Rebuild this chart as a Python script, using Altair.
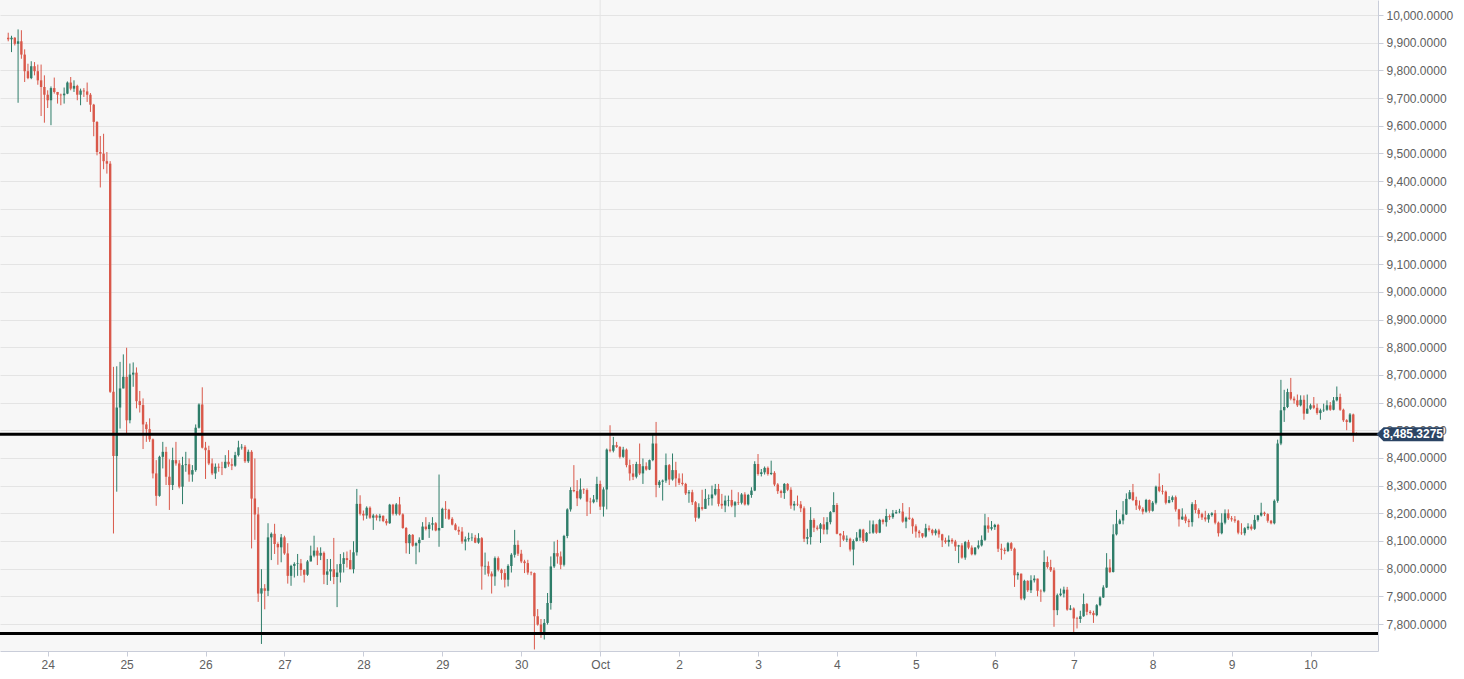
import altair as alt
import pandas as pd

# ---- data (hourly BTC/USD candles, Sep 23 12:00 -> Oct 10 14:00) ----
first_open = 9918

close_prices = [
    9912, 9918, 9896, 9905, 9857, 9797, 9772, 9815, 9797, 9764, 9740, 9712, 9692, 9736, 9722, 9712, 9710, 9716, 9756, 9734,
    9744, 9712, 9727, 9724, 9712, 9676, 9614, 9505, 9499, 9472, 9463, 8639, 8407, 8582, 8651, 8693, 8536, 8701, 8708, 8605,
    8591, 8521, 8504, 8467, 8344, 8263, 8404, 8422, 8332, 8302, 8392, 8380, 8296, 8374, 8377, 8340, 8356, 8509, 8593, 8437,
    8428, 8380, 8344, 8368, 8365, 8364, 8386, 8377, 8372, 8410, 8438, 8440, 8388, 8422, 8253, 8196, 7910, 7929, 7920, 8113,
    8126, 8089, 8077, 8113, 8055, 7974, 8010, 8017, 8019, 7995, 7978, 8026, 8047, 8065, 8047, 8057, 7978, 7990, 7998, 7970,
    7986, 8017, 8038, 8031, 7998, 8059, 8234, 8198, 8192, 8220, 8184, 8192, 8184, 8191, 8172, 8164, 8231, 8198, 8232, 8196,
    8147, 8092, 8122, 8083, 8092, 8104, 8152, 8143, 8159, 8164, 8138, 8147, 8216, 8213, 8180, 8159, 8140, 8134, 8098,
    8106, 8110, 8112, 8094, 8110, 8008, 8010, 7982, 7972, 8038, 7996, 7984, 7960, 8010, 8050, 8086, 8054, 8026, 8020, 7986,
    7984, 7828, 7798, 7770, 7804, 7876, 8008, 8056, 8044, 8014, 8118, 8214, 8284, 8280, 8254, 8286, 8284, 8242, 8240, 8250,
    8306, 8224, 8286, 8430, 8426, 8446, 8440, 8404, 8430, 8374, 8344, 8332, 8378, 8344, 8370, 8358, 8392, 8452, 8302, 8314,
    8318, 8374, 8322, 8356, 8326, 8310, 8306, 8272,
    8276, 8240, 8184, 8222, 8216, 8252, 8254, 8268, 8288, 8234, 8228, 8246, 8248, 8228, 8240, 8238, 8268, 8232, 8266, 8282,
    8378, 8342, 8348, 8364, 8342, 8346, 8304, 8280, 8273, 8306, 8285, 8228, 8234, 8232, 8218, 8108, 8114, 8176, 8148, 8144,
    8160, 8141, 8168, 8204, 8230, 8126, 8120, 8105, 8108, 8069, 8100, 8112, 8141, 8100, 8129, 8130, 8160, 8130, 8176, 8168,
    8190, 8186, 8200, 8204, 8206, 8170, 8184, 8180, 8153,
    8134, 8128, 8116, 8146, 8140, 8128, 8138, 8124, 8102, 8096, 8104, 8098, 8080, 8084, 8040, 8096, 8076, 8052, 8076, 8084,
    8104, 8156, 8144, 8150, 8158, 8072, 8068, 8064, 8092, 8072, 7976, 7982, 7892, 7956, 7922, 7958, 7964, 7920, 7918, 8024,
    8006, 7994, 7850, 7904, 7910, 7924, 7852, 7856, 7820, 7818, 7828, 7872, 7844, 7840, 7832, 7868, 7896, 7932, 8004, 7988,
    8124, 8162, 8174, 8196, 8252, 8276, 8248, 8228, 8216, 8206,
    8248, 8209, 8238, 8296, 8281, 8278, 8238, 8248, 8258, 8214, 8178, 8188, 8173, 8168, 8233, 8212, 8197, 8185, 8178, 8194,
    8200, 8166, 8128, 8166, 8200, 8182, 8178, 8173, 8130, 8128, 8146, 8152, 8144, 8176, 8192, 8202, 8197, 8173, 8164, 8245,
    8452, 8572, 8584, 8638, 8614, 8608, 8590, 8610, 8560, 8578, 8590, 8581, 8562, 8572, 8574, 8590, 8574, 8608, 8620, 8574,
    8536, 8530, 8557, 8490, 8485,
]

high_prices = [
    9936, 9925, 9920, 9948, 9945, 9876, 9824, 9833, 9830, 9821, 9821, 9782, 9728, 9742, 9774, 9722, 9716, 9738, 9760, 9776,
    9764, 9748, 9734, 9736, 9756, 9718, 9679, 9616, 9563, 9571, 9505, 9472,
    8729, 8731, 8747, 8774, 8798, 8741, 8745, 8727, 8642, 8615, 8530, 8543, 8470, 8392, 8408, 8458, 8440, 8395, 8437, 8458,
    8392, 8404, 8422, 8398, 8374, 8521, 8597, 8655, 8458, 8444, 8398, 8380, 8380, 8386, 8410, 8428, 8398, 8422,
    8462, 8450, 8446, 8430, 8428, 8398, 8222, 7998, 7944, 8164, 8131, 8162, 8095, 8125, 8119, 8092, 8014, 8023, 8053, 8035,
    7998, 8031, 8083, 8119, 8077, 8077, 8062, 8035, 8035, 8111, 8016, 8053, 8059, 8062, 8068, 8099, 8288, 8265, 8210, 8225,
    8225, 8198, 8196, 8198, 8192, 8180, 8234, 8234, 8237, 8259, 8200, 8150, 8125, 8125, 8095, 8113, 8168, 8186, 8168, 8186,
    8168, 8340, 8220, 8244, 8216, 8186, 8164, 8152, 8150,
    8116, 8130, 8128, 8122, 8128, 8114, 8058, 8026, 7990, 8044, 8044, 8000, 7998, 8016, 8056, 8140, 8102, 8068, 8032, 8032,
    7990, 7986, 7854, 7818, 7818, 7912, 8044, 8098, 8104, 8062, 8122, 8218, 8294, 8374, 8320, 8326, 8290, 8290, 8256, 8266,
    8332, 8318, 8294, 8434, 8518, 8476, 8458, 8442, 8440, 8434, 8394, 8378, 8386, 8452, 8398, 8384, 8394, 8490, 8530, 8320,
    8322, 8416, 8378, 8416, 8386, 8344, 8344, 8310,
    8284, 8285, 8244, 8236, 8285, 8288, 8268, 8300, 8306, 8306, 8270, 8264, 8264, 8285, 8244, 8276, 8273, 8276, 8270, 8294,
    8388, 8414, 8360, 8369, 8369, 8390, 8352, 8309, 8285, 8309, 8309, 8294, 8244, 8264, 8244, 8225, 8144, 8222, 8182, 8156,
    8165, 8186, 8186, 8208, 8276, 8237, 8128, 8136, 8120, 8112, 8106, 8132, 8144, 8144, 8132, 8174, 8174, 8162, 8180, 8180,
    8216, 8196, 8212, 8212, 8216, 8237, 8188, 8222, 8184,
    8160, 8140, 8128, 8162, 8156, 8144, 8144, 8144, 8126, 8112, 8120, 8110, 8104, 8086, 8092, 8100, 8104, 8084, 8078, 8102,
    8120, 8198, 8186, 8172, 8162, 8162, 8090, 8076, 8096, 8096, 8076, 7988, 7982, 7960, 7958, 7976, 7976, 7964, 7925, 8066,
    8044, 8032, 8004, 7910, 7928, 7935, 7934, 7868, 7860, 7826, 7848, 7910, 7876, 7850, 7848, 7872, 7900, 7940, 8056, 8034,
    8160, 8212, 8180, 8244, 8272, 8284, 8306, 8260, 8246, 8222,
    8252, 8250, 8244, 8300, 8344, 8302, 8282, 8262, 8264, 8264, 8216, 8218, 8196, 8180, 8240, 8248, 8218, 8202, 8209, 8200,
    8204, 8212, 8170, 8200, 8214, 8214, 8190, 8190, 8176, 8164, 8150, 8164, 8160, 8194, 8194, 8238, 8206, 8200, 8176, 8250,
    8466, 8682, 8646, 8650, 8689, 8622, 8629, 8626, 8626, 8629, 8596, 8620, 8596, 8578, 8596, 8608, 8602, 8620, 8658, 8632,
    8578, 8540, 8562, 8560, 8492,
]

low_prices = [
    9905, 9866, 9890, 9683, 9842, 9758, 9768, 9768, 9782, 9748, 9635, 9611, 9664, 9602, 9716, 9680, 9674, 9680, 9714, 9728,
    9722, 9692, 9674, 9704, 9686, 9650, 9562, 9493, 9377, 9443, 9427, 8635,
    8127, 8278, 8506, 8651, 8488, 8525, 8657, 8579, 8564, 8432, 8458, 8458, 8326, 8227, 8260, 8362, 8302, 8212, 8284, 8372,
    8290, 8233, 8350, 8314, 8314, 8350, 8506, 8434, 8324, 8374, 8338, 8324, 8350, 8338, 8362, 8368, 8356, 8368,
    8405, 8430, 8382, 8382, 8073, 8104, 7880, 7728, 7853, 7901, 8031, 8053, 8014, 8023, 8050, 7946, 7938, 7968, 7974, 7974,
    7950, 7974, 8029, 8041, 8013, 8031, 7944, 7941, 7956, 7944, 7861, 7950, 7986, 8004, 7998, 7983, 8047, 8192, 8174, 8180,
    8180, 8140, 8174, 8171, 8168, 8156, 8162, 8192, 8192, 8192, 8144, 8055, 8053, 8079, 8016, 8059, 8104, 8138, 8111, 8138,
    8135, 8079, 8147, 8180, 8176, 8156, 8138, 8122, 8090,
    8066, 8098, 8100, 8092, 8090, 7924, 7978, 7972, 7910, 7938, 7990, 7960, 7932, 7936, 7986, 8040, 8046, 8020, 7984, 7978,
    7976, 7708, 7794, 7750, 7744, 7798, 7852, 8002, 8018, 7998, 8008, 8110, 8206, 8276, 8226, 8250, 8270, 8190, 8198, 8236,
    8240, 8212, 8188, 8214, 8420, 8420, 8436, 8398, 8400, 8366, 8318, 8320, 8326, 8338, 8306, 8354, 8356, 8388, 8258, 8292,
    8246, 8310, 8302, 8318, 8296, 8302, 8300, 8266,
    8238, 8230, 8170, 8180, 8210, 8216, 8228, 8228, 8264, 8225, 8216, 8204, 8225, 8222, 8186, 8230, 8232, 8228, 8228, 8256,
    8280, 8336, 8333, 8340, 8336, 8338, 8298, 8270, 8256, 8252, 8280, 8216, 8210, 8226, 8204, 8096, 8088, 8087, 8132, 8138,
    8093, 8124, 8124, 8160, 8204, 8124, 8078, 8100, 8096, 8062, 8012, 8098, 8100, 8093, 8096, 8126, 8126, 8126, 8128, 8160,
    8152, 8176, 8180, 8198, 8200, 8166, 8146, 8176, 8126,
    8112, 8112, 8110, 8112, 8134, 8120, 8120, 8112, 8078, 8090, 8080, 8090, 8064, 8020, 8036, 8032, 8070, 8048, 8048, 8070,
    8080, 8100, 8130, 8138, 8140, 8060, 8032, 8052, 8060, 8064, 7934, 7960, 7886, 7886, 7916, 7912, 7950, 7900, 7880, 7914,
    8000, 7988, 7790, 7832, 7900, 7896, 7848, 7850, 7768, 7784, 7804, 7826, 7832, 7834, 7804, 7828, 7864, 7894, 7930, 7984,
    7986, 8120, 8160, 8160, 8194, 8250, 8244, 8212, 8210, 8196,
    8202, 8202, 8206, 8232, 8276, 8268, 8232, 8236, 8240, 8206, 8152, 8176, 8164, 8150, 8152, 8200, 8182, 8176, 8170, 8166,
    8188, 8160, 8116, 8124, 8160, 8176, 8170, 8166, 8124, 8122, 8120, 8140, 8138, 8140, 8170, 8188, 8190, 8166, 8160, 8160,
    8238, 8446, 8530, 8580, 8608, 8596, 8584, 8586, 8538, 8560, 8574, 8576, 8556, 8538, 8566, 8570, 8570, 8572, 8604, 8570,
    8530, 8500, 8526, 8458, 8482,
]

first_candle_hour = -12          # hours relative to Sep 24 00:00
day_labels = ["24", "25", "26", "27", "28", "29", "30", "Oct", "2", "3", "4", "5", "6", "7", "8", "9", "10"]
y_ticks = list(range(7800, 10001, 100))
level_lines = [8485.3275, 7766]
last_price = 8485.3275
last_price_text = "8,485.3275"

# ---- build table ----
n = len(close_prices)
opens = [first_open] + close_prices[:-1]
df = pd.DataFrame({
    "h": [first_candle_hour + i for i in range(n)],
    "open": opens,
    "close": close_prices,
    "high": [max(h, o, c) for h, o, c in zip(high_prices, opens, close_prices)],
    "low": [min(l, o, c) for l, o, c in zip(low_prices, opens, close_prices)],
})
df["dir"] = ["up" if c >= o else "down" for o, c in zip(df["open"], df["close"])]

tick_hours = [24 * k for k in range(len(day_labels))]
label_expr = "[" + ",".join("'%s'" % s for s in day_labels) + "][round(datum.value/24)]"

xscale = alt.Scale(domain=[-12.98, 403.0], nice=False, zero=False)
yscale = alt.Scale(domain=[7702.5, 10054.2], nice=False, zero=False)
color = alt.Color("dir:N", scale=alt.Scale(domain=["up", "down"], range=["#2e7d69", "#d9584a"]), legend=None)

axis_col = "#c9cdd9"
x_axis = alt.Axis(values=tick_hours, labelExpr=label_expr, title=None, grid=False,
                  domainColor=axis_col, tickColor=axis_col, tickSize=5,
                  labelColor="#606060", labelFontSize=12, labelFont="Liberation Sans",
                  labelPadding=3, labelOverlap=False)
y_axis = alt.Axis(orient="right", values=y_ticks, format=",.4f", tickCount=len(y_ticks),
                  title=None, grid=True, gridColor="#e4e4e4", domainColor=axis_col,
                  tickColor=axis_col, tickSize=5, labelColor="#606060", labelFontSize=12,
                  labelFont="Liberation Sans", labelPadding=3, labelOverlap=False)

base = alt.Chart(df)

wicks = base.mark_rule(strokeWidth=1).encode(
    x=alt.X("h:Q", scale=xscale, axis=x_axis),
    y=alt.Y("low:Q", scale=yscale, axis=y_axis),
    y2="high:Q",
    color=color,
)

bodies = base.mark_bar(size=2.4).encode(
    x=alt.X("h:Q", scale=xscale, axis=x_axis),
    y=alt.Y("open:Q", scale=yscale, axis=y_axis),
    y2="close:Q",
    color=color,
)

month_line = alt.Chart(pd.DataFrame({"h": [tick_hours[day_labels.index("Oct")]]})).mark_rule(
    color="#e4e4e4", strokeWidth=1).encode(x=alt.X("h:Q", scale=xscale, axis=x_axis))

levels = alt.Chart(pd.DataFrame({"p": level_lines})).mark_rule(color="#000000", strokeWidth=3).encode(
    y=alt.Y("p:Q", scale=yscale, axis=y_axis))

tag_df = pd.DataFrame({"p": [last_price], "t": [last_price_text]})
tag_shape = "M-1,0L-0.79,-0.21L1,-0.21L1,0.21L-0.79,0.21Z"
tag = alt.Chart(tag_df).mark_point(shape=tag_shape, size=67 * 67, filled=True, opacity=1,
                                   color="#2b4464", strokeWidth=0).encode(
    x=alt.value(1410), y=alt.Y("p:Q", scale=yscale, axis=y_axis))
tag_text = alt.Chart(tag_df).mark_text(color="white", fontWeight="bold", fontSize=12,
                                       font="Liberation Sans", align="center", baseline="middle").encode(
    x=alt.value(1413), y=alt.Y("p:Q", scale=yscale, axis=y_axis), text="t:N")

chart = alt.layer(month_line, wicks, bodies, levels, tag, tag_text).properties(
    width=1378, height=651,
    autosize=alt.AutoSizeParams(type="none"),
    padding={"left": 0, "top": 0, "right": 86, "bottom": 28},
    background="#ffffff",
).configure_view(fill="#f7f7f7", stroke=None)

chart.save("out.html", embed_options={"renderer": "svg", "actions": False})
